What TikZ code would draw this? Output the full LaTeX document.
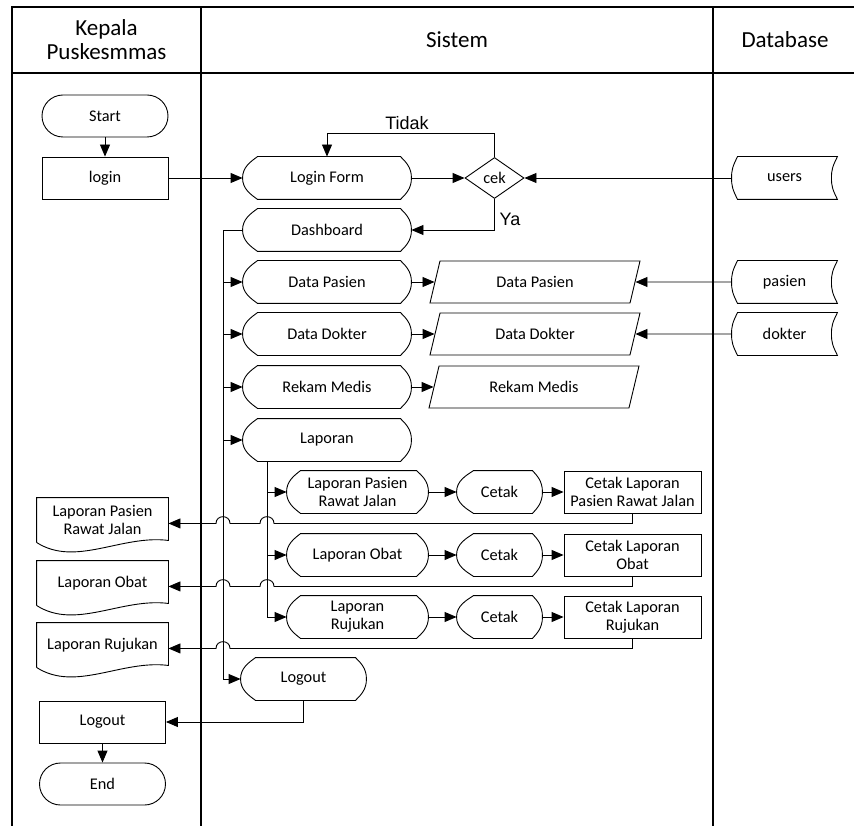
\documentclass[tikz,border=0pt]{standalone}
\usepackage{fontspec}
\setmainfont{Carlito}
\newfontfamily\arialfont{Liberation Sans}
\usetikzlibrary{arrows.meta,calc,shapes.geometric}

\begin{document}
\begin{tikzpicture}[x=1pt, y=-1pt, line width=0.9pt, font=\fontsize{16.3}{18}\selectfont,
    arr/.style={-{Triangle[length=12pt,width=10pt]}},
    lane/.style={line width=1.2pt},
    term/.style={draw, rounded corners=21pt, minimum width=126pt, minimum height=42pt},
    proc/.style={draw, minimum width=126pt, minimum height=42pt, inner sep=2pt, align=center},
    disp/.style={minimum height=42pt, inner sep=2pt, align=center},
    store/.style={minimum width=105pt, minimum height=42pt},
    inout/.style={draw, trapezium, trapezium left angle=61, trapezium right angle=119,
                  trapezium stretches body, minimum width=210pt, minimum height=42pt},
    dec/.style={draw, diamond, minimum width=59pt, minimum height=41pt, inner sep=0pt},
    docu/.style={minimum width=131pt, minimum height=44pt, inner sep=2pt, align=center},
    hdr/.style={font=\fontsize{23}{24}\selectfont, align=center},
    lbl/.style={font=\arialfont\fontsize{18}{20}\selectfont}]
    \useasboundingbox (0,0) rectangle (854,826);

    % lanes
    \draw[lane] (12,826) -- (12,7) -- (854,7);
    \draw[lane] (12,73) -- (854,73);
    \draw[lane] (201,7) -- (201,826);
    \draw[lane] (713,7) -- (713,826);
    \node[hdr] (hkepala) at (106.5,40) {Kepala\\Puskesmmas};
    \node[hdr] (hsistem) at (457,40) {Sistem};
    \node[hdr] (hdb) at (785,40) {Database};

    % kepala puskesmas
    \node[term] (start) at (105,116) {Start};
    \node[proc] (login) at (105,178) {login};
    \node[docu] (doc1) at (102.5,520) {Laporan Pasien\\Rawat Jalan};
    \node[docu] (doc2) at (102.5,583) {Laporan Obat};
    \node[docu] (doc3) at (102.5,645) {Laporan Rujukan};
    \node[proc] (logoutk) at (102.5,722) {Logout};
    \node[term] (stop) at (102.5,784) {End};

    % sistem
    \node[disp, minimum width=168pt] (loginform) at (327,178) {Login Form};
    \node[dec] (cek) at (494.5,178) {cek};
    \node[disp, minimum width=168pt] (dashboard) at (327,230) {Dashboard};
    \node[disp, minimum width=168pt] (dpasien) at (327,282) {Data Pasien};
    \node[disp, minimum width=168pt] (ddokter) at (327,334) {Data Dokter};
    \node[disp, minimum width=168pt] (rekam) at (327,387) {Rekam Medis};
    \node[disp, minimum width=168pt] (laporan) at (327,440) {Laporan};
    \node[inout] (inpasien) at (535,282) {Data Pasien};
    \node[inout] (indokter) at (535,334) {Data Dokter};
    \node[inout] (inrekam) at (534,387) {Rekam Medis};
    \node[disp, minimum width=141pt] (lpr1) at (357.5,492) {Laporan Pasien\\Rawat Jalan};
    \node[disp, minimum width=141pt] (lpr2) at (357.5,555) {Laporan Obat};
    \node[disp, minimum width=141pt] (lpr3) at (357.5,617) {Laporan\\Rujukan};
    \node[disp, minimum width=85pt] (ctk1) at (499.5,492) {Cetak};
    \node[disp, minimum width=85pt] (ctk2) at (499.5,555) {Cetak};
    \node[disp, minimum width=85pt] (ctk3) at (499.5,617) {Cetak};
    \node[proc, minimum width=137pt] (ctklap1) at (632.5,492) {Cetak Laporan\\Pasien Rawat Jalan};
    \node[proc, minimum width=137pt] (ctklap2) at (632.5,555) {Cetak Laporan\\Obat};
    \node[proc, minimum width=137pt] (ctklap3) at (632.5,617) {Cetak Laporan\\Rujukan};
    \node[disp, minimum width=125pt] (logout) at (303.5,679) {Logout};
    \node[lbl] (tidak) at (407,123) {Tidak};
    \node[lbl] (ya) at (510,219) {Ya};

    % database
    \node[store] (users) at (784.5,178) {users};
    \node[store] (pasien) at (784.5,282) {pasien};
    \node[store] (dokter) at (784.5,334) {dokter};

    % display shapes
    \foreach \n/\l/\r in {loginform/15/11,dashboard/15/11,dpasien/15/11,ddokter/15/11,rekam/15/11,
                          laporan/15/11,lpr1/14/12,lpr2/14/12,lpr3/14/12,ctk1/17/10,ctk2/17/10,
                          ctk3/17/10,logout/15/11}
      \draw ($(\n.north west)+(\l,0)$) -- ($(\n.north east)+(-\r,0)$)
        .. controls ($(\n.north east)+(-0.55*\r,5)$) and ($(\n.east)+(0,-11)$) .. (\n.east)
        .. controls ($(\n.east)+(0,11)$) and ($(\n.south east)+(-0.55*\r,-5)$) .. ($(\n.south east)+(-\r,0)$)
        -- ($(\n.south west)+(\l,0)$)
        .. controls ($(\n.south west)+(0.55*\l,-5)$) and ($(\n.west)+(0,11)$) .. (\n.west)
        .. controls ($(\n.west)+(0,-11)$) and ($(\n.north west)+(0.55*\l,5)$) .. cycle;
    % stored data shapes
    \foreach \n in {users,pasien,dokter}
      \draw ($(\n.north west)+(6,0)$) -- (\n.north east)
        .. controls ($(\n.north east)+(-5,10)$) and ($(\n.east)+(-6,-8)$) .. ($(\n.east)+(-6,0)$)
        .. controls ($(\n.east)+(-6,8)$) and ($(\n.south east)+(-5,-10)$) .. (\n.south east)
        -- ($(\n.south west)+(6,0)$)
        .. controls ($(\n.south west)+(1,-10)$) and ($(\n.west)+(0,8)$) .. (\n.west)
        .. controls ($(\n.west)+(0,-8)$) and ($(\n.north west)+(1,10)$) .. cycle;
    % documents
    \foreach \n in {doc1,doc2,doc3}
      \draw (\n.south west) -- (\n.north west) -- (\n.north east) -- ($(\n.south east)+(0,-2)$)
        .. controls ($(\n.south west)+(85,-8)$) and ($(\n.south west)+(39,25)$) .. (\n.south west);

    % flow
    \coordinate (bus) at (223,230);
    \coordinate (subbus) at (267,461);
    \draw[arr] (start) -- (login);
    \draw[arr] (login) -- (loginform);
    \draw[arr] (loginform) -- (cek);
    \draw[arr] (users) -- (cek);
    \draw[arr] (cek.north) -- ++(0,-24) -| (loginform.north);
    \draw[arr] (cek.south) |- (dashboard.east);
    \draw[arr] (dashboard.west) -| (bus |- logout.west) -- (logout.west);
    \foreach \n in {dpasien,ddokter,rekam,laporan}
      \draw[arr] (\n.west -| bus) -- (\n.west);
    \draw[arr] (dpasien) -- (inpasien);
    \draw[arr] (ddokter) -- (indokter);
    \draw[arr] (rekam) -- (inrekam);
    \draw[arr] (pasien) -- (inpasien);
    \draw[arr] (dokter) -- (indokter);
    \draw[arr] (laporan.south -| subbus) |- (lpr3.west);
    \foreach \n in {lpr1,lpr2}
      \draw[arr] (\n.west -| subbus) -- (\n.west);
    \foreach \k in {1,2,3} {
      \draw[arr] (lpr\k) -- (ctk\k);
      \draw[arr] (ctk\k) -- (ctklap\k);
    }
    % report outputs, hopping over the lines
    \foreach \k in {1,2}
      \draw[arr] (ctklap\k.south) -- ++(0,10) coordinate (ret\k)
        -- ($(ret\k -| subbus)+(7,0)$) .. controls +(0,-9) and +(0,-9) .. ($(ret\k -| subbus)+(-7,0)$)
        -- ($(ret\k -| bus)+(7,0)$) .. controls +(0,-9) and +(0,-9) .. ($(ret\k -| bus)+(-7,0)$)
        -- (ret\k -| doc\k.east);
    \draw[arr] (ctklap3.south) -- ++(0,10) coordinate (ret3)
      -- ($(ret3 -| bus)+(7,0)$) .. controls +(0,-9) and +(0,-9) .. ($(ret3 -| bus)+(-7,0)$)
      -- (ret3 -| doc3.east);
    \draw[arr] (logout.south) |- (logoutk.east);
    \draw[arr] (logoutk) -- (stop);
\end{tikzpicture}
\end{document}
